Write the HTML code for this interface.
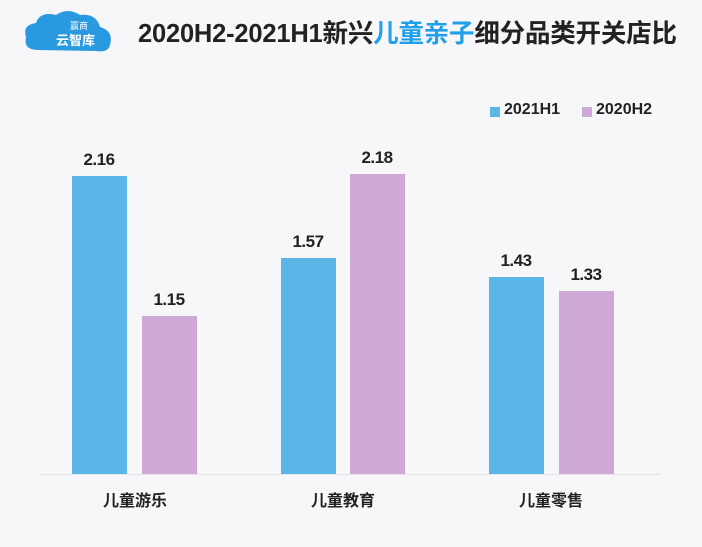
<!DOCTYPE html>
<html><head><meta charset="utf-8"><style>
body{margin:0;width:702px;height:547px;background:#f7f6f9;overflow:hidden;font-family:"Liberation Sans","Noto Sans CJK SC",sans-serif;position:relative}
.t{position:absolute;font-weight:bold;color:#222}
.bar{position:absolute}
.b{background:#5bb5e6}.p{background:#cfa9d6}
.v{position:absolute;width:56px;text-align:center;font-size:17px;font-weight:bold;color:#222;letter-spacing:-0.5px}
.c{position:absolute;width:120px;text-align:center;font-size:16px;font-weight:bold;color:#222;top:487px}
</style></head><body>
<svg style="position:absolute;left:18px;top:5px" width="100" height="50">
<path d="M20 45 Q5 45 8 32 Q4 20 18 18 Q22 6 38 10 Q50 2 62 10 Q78 8 82 22 Q96 26 92 40 Q90 48 78 46 Z" fill="#2a9ae0"/>
<text x="52" y="24" font-size="9" fill="#fff" font-family="Liberation Sans,Noto Sans CJK SC,sans-serif">赢商</text>
<text x="38" y="40" font-size="13" fill="#fff" font-weight="bold" font-family="Liberation Sans,Noto Sans CJK SC,sans-serif">云智库</text>
</svg>
<div class="t" style="left:138px;top:13px;font-size:25.5px;letter-spacing:-0.2px">2020H2-2021H1新兴<span style="color:#1fa0e8">儿童亲子</span>细分品类开关店比</div>
<div style="position:absolute;left:490px;top:107px;width:10px;height:10px;background:#5bb5e6"></div>
<div class="t" style="left:504px;top:101px;font-size:16px">2021H1</div>
<div style="position:absolute;left:582px;top:107px;width:10px;height:10px;background:#cfa9d6"></div>
<div class="t" style="left:596px;top:101px;font-size:16px">2020H2</div>
<div style="position:absolute;left:40px;top:474px;width:620px;height:1px;background:#e4e3e6"></div>
<div class="bar b" style="left:72px;top:176px;width:55px;height:298px"></div>
<div class="bar p" style="left:142px;top:316px;width:55px;height:158px"></div>
<div class="bar b" style="left:281px;top:258px;width:55px;height:216px"></div>
<div class="bar p" style="left:350px;top:174px;width:55px;height:300px"></div>
<div class="bar b" style="left:489px;top:277px;width:55px;height:197px"></div>
<div class="bar p" style="left:559px;top:291px;width:55px;height:183px"></div>
<div class="v" style="left:71px;top:150px">2.16</div>
<div class="v" style="left:141px;top:290px">1.15</div>
<div class="v" style="left:280px;top:232px">1.57</div>
<div class="v" style="left:349px;top:148px">2.18</div>
<div class="v" style="left:488px;top:251px">1.43</div>
<div class="v" style="left:558px;top:265px">1.33</div>
<div class="c" style="left:75px">儿童游乐</div>
<div class="c" style="left:283px">儿童教育</div>
<div class="c" style="left:491px">儿童零售</div>
</body></html>
